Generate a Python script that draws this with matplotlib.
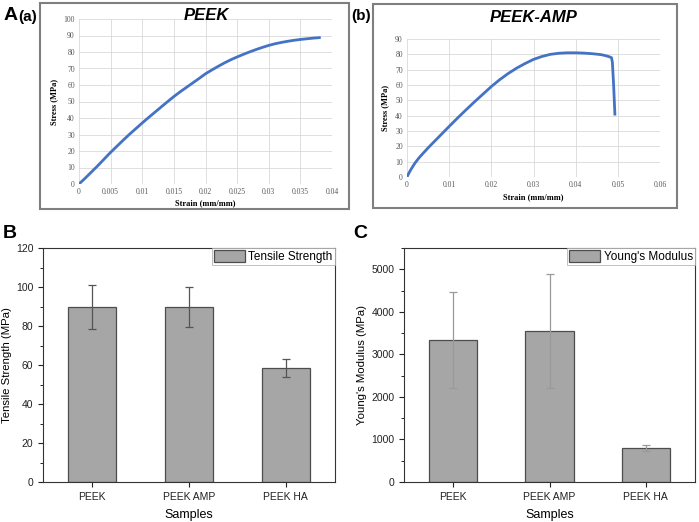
import numpy as np
import matplotlib
matplotlib.use('Agg')
import matplotlib.pyplot as plt
from matplotlib.patches import Rectangle

# stress-strain curves
peek_strain = [0, 0.001, 0.002, 0.003, 0.004, 0.005, 0.006, 0.007, 0.008, 0.009, 0.010,
               0.011, 0.012, 0.013, 0.014, 0.015, 0.016, 0.017, 0.018, 0.019, 0.020,
               0.021, 0.022, 0.023, 0.024, 0.025, 0.026, 0.027, 0.028, 0.029, 0.030,
               0.031, 0.032, 0.033, 0.034, 0.035, 0.036, 0.037, 0.038]
peek_stress = [0, 3.6, 7.4, 11.2, 15.2, 19.2, 22.9, 26.6, 30.2, 33.6, 37.0,
               40.3, 43.5, 46.7, 49.9, 53.0, 55.9, 58.6, 61.3, 64.0, 66.8,
               69.1, 71.3, 73.4, 75.3, 77.0, 78.6, 80.1, 81.5, 82.8, 84.0,
               85.0, 85.8, 86.5, 87.1, 87.6, 88.0, 88.4, 88.7]

amp_strain = [0, 0.0005, 0.001, 0.0015, 0.002, 0.003, 0.004, 0.005, 0.006, 0.007, 0.008,
              0.009, 0.010, 0.012, 0.014, 0.016, 0.018, 0.020, 0.022, 0.024, 0.026,
              0.028, 0.030, 0.032, 0.034, 0.036, 0.038, 0.040, 0.042, 0.044, 0.046,
              0.047, 0.048, 0.0485, 0.0487, 0.0490, 0.0493]
amp_stress = [0, 2.8, 5.2, 7.4, 9.5, 13.0, 16.0, 19.0, 21.8, 24.6, 27.4,
              30.2, 33.0, 38.5, 43.8, 49.0, 54.0, 59.0, 63.5, 67.5, 71.0,
              74.0, 76.7, 78.6, 80.0, 80.7, 81.0, 81.0, 80.8, 80.4, 79.8,
              79.2, 78.4, 77.8, 75.0, 60.0, 41.0]

samples = ['PEEK', 'PEEK AMP', 'PEEK HA']
tensile = [89.8, 89.6, 58.4]
tensile_err = [11.3, 10.3, 4.5]
modulus = [3330, 3540, 800]
modulus_err = [1125, 1340, 70]

W, H = 699, 522
fig = plt.figure(figsize=(W / 100, H / 100), dpi=100)


def ax_px(x0, y0, x1, y1):
    # pixel box (top-left origin) -> figure axes
    return fig.add_axes([x0 / W, 1 - y1 / H, (x1 - x0) / W, (y1 - y0) / H])


def frame_px(x0, y0, x1, y1):
    fig.patches.append(Rectangle((x0 / W, 1 - y1 / H), (x1 - x0) / W, (y1 - y0) / H,
                                 transform=fig.transFigure, fill=False,
                                 edgecolor='#7f7f7f', lw=1.5))


def excel_style(ax):
    for s in ax.spines.values():
        s.set_visible(False)
    ax.grid(True, color='#d9d9d9', lw=0.6)
    ax.set_axisbelow(True)
    ax.tick_params(length=0, labelsize=5.5, labelcolor='#595959', pad=3)
    for lab in ax.get_xticklabels() + ax.get_yticklabels():
        lab.set_fontfamily('Liberation Serif')


blue = '#4472c4'

# (a) PEEK
frame_px(40, 3, 349, 209)
ax1 = ax_px(79, 19, 332, 184)
ax1.plot(peek_strain, peek_stress, color=blue, lw=2)
ax1.set_xlim(0, 0.04)
ax1.set_ylim(0, 100)
ax1.set_xticks(np.arange(0, 0.0401, 0.005))
ax1.set_xticklabels(['0', '0.005', '0.01', '0.015', '0.02', '0.025', '0.03', '0.035', '0.04'])
ax1.set_yticks(np.arange(0, 101, 10))
excel_style(ax1)
ax1.set_xlabel('Strain (mm/mm)', fontsize=6, fontweight='bold', family='Liberation Serif', labelpad=2)
ax1.set_ylabel('Stress (MPa)', fontsize=6, fontweight='bold', family='Liberation Serif', labelpad=4)
fig.text(206 / W, 1 - 15 / H, 'PEEK', fontsize=12, fontweight='bold', style='italic',
         family='Liberation Sans', ha='center', va='center')

# (b) PEEK-AMP
frame_px(373, 4, 677, 208)
ax2 = ax_px(407, 39, 660, 177)
ax2.plot(amp_strain, amp_stress, color=blue, lw=2)
ax2.set_xlim(0, 0.06)
ax2.set_ylim(0, 90)
ax2.set_xticks(np.arange(0, 0.0601, 0.01))
ax2.set_xticklabels(['0', '0.01', '0.02', '0.03', '0.04', '0.05', '0.06'])
ax2.set_yticks(np.arange(0, 91, 10))
excel_style(ax2)
ax2.set_xlabel('Strain (mm/mm)', fontsize=6, fontweight='bold', family='Liberation Serif', labelpad=3)
ax2.set_ylabel('Stress (MPa)', fontsize=6, fontweight='bold', family='Liberation Serif', labelpad=4)
fig.text(534 / W, 1 - 17 / H, 'PEEK-AMP', fontsize=12, fontweight='bold', style='italic',
         family='Liberation Sans', ha='center', va='center')

fig.text(4 / W, 1 - 16 / H, 'A', fontsize=14, fontweight='bold', family='Liberation Sans', va='center')
fig.text(18 / W, 1 - 17 / H, '(a)', fontsize=11, fontweight='bold', family='Liberation Sans', va='center')
fig.text(351 / W, 1 - 16 / H, '(b)', fontsize=11, fontweight='bold', family='Liberation Sans', va='center')


def origin_bars(ax, vals, errs, ecol, label, ymax, major, minor, ylabel):
    x = np.arange(1, len(vals) + 1)
    ax.bar(x, vals, width=0.5, color='#a6a6a6', edgecolor='#4d4d4d', lw=0.9, label=label)
    ax.errorbar(x, vals, yerr=errs, fmt='none', ecolor=ecol, elinewidth=0.9, capsize=3, capthick=0.9)
    ax.set_xlim(0.49, 3.51)
    ax.set_ylim(0, ymax)
    ax.set_xticks(x)
    ax.set_xticklabels(samples)
    ax.set_yticks(np.arange(0, ymax + 1, major))
    ax.set_yticks(np.arange(0, ymax + 1, minor), minor=True)
    ax.tick_params(axis='both', direction='out', length=3.5, width=0.8, labelsize=7.5, colors='#222222')
    ax.tick_params(axis='y', which='minor', length=2, width=0.6)
    for s in ax.spines.values():
        s.set_linewidth(0.8)
        s.set_color('#333333')
    ax.set_xlabel('Samples', fontsize=9, labelpad=5)
    ax.set_ylabel(ylabel, fontsize=8.2, labelpad=3)
    leg = ax.legend(loc='upper right', fontsize=8.5, borderaxespad=0, frameon=True, fancybox=False,
                    handlelength=2.6, handleheight=1.1, borderpad=0.2, handletextpad=0.3)
    leg.get_frame().set_edgecolor('#b0b0b0')
    leg.get_frame().set_linewidth(0.7)


plt.rcParams['font.family'] = ['Liberation Sans', 'DejaVu Sans']

axB = ax_px(43, 248, 335, 482)
origin_bars(axB, tensile, tensile_err, '#555555', 'Tensile Strength', 120, 20, 10, 'Tensile Strength (MPa)')
fig.text(3 / W, 1 - 233 / H, 'B', fontsize=14, fontweight='bold', family='Liberation Sans', va='center')

axC = ax_px(404, 248, 695, 482)
origin_bars(axC, modulus, modulus_err, '#9a9a9a', "Young's Modulus", 5500, 1000, 500, "Young's Modulus (MPa)")
axC.set_yticks(np.arange(0, 5001, 1000))
fig.text(353 / W, 1 - 234 / H, 'C', fontsize=14, fontweight='bold', family='Liberation Sans', va='center')

fig.savefig('out.png', dpi=100)
